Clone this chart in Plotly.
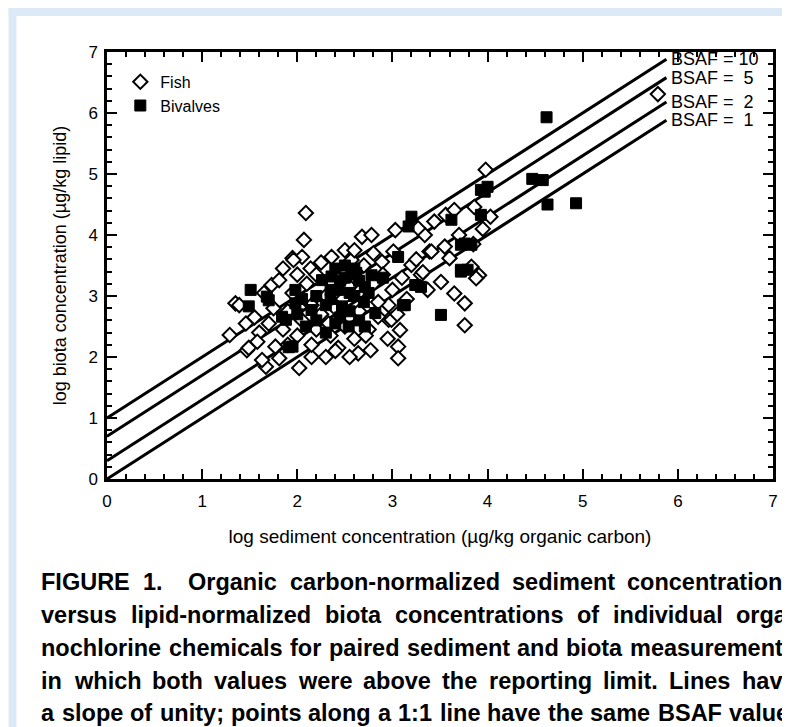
import plotly.graph_objects as go

# ---- data (log units) ----
fish_x = [2.09, 2.07, 1.95, 2.14, 2.05, 1.96, 3.98, 5.79,
          2.68, 2.78, 3.03, 3.34, 3.44, 3.56, 3.65, 3.86, 4.03, 3.27,
          3.55, 3.01, 3.39, 3.60, 3.20, 2.89, 2.50, 2.36, 2.57, 3.83, 3.91, 3.41,
          3.51, 3.65, 3.76, 3.76, 3.88, 3.08, 3.06, 3.06, 2.64, 2.77, 2.30, 2.96,
          2.43, 2.96, 2.85, 2.99,
          1.35, 1.29, 1.46, 1.47, 1.67, 1.81, 2.02, 1.73, 1.63, 1.77, 2.15, 1.81,
          1.39, 1.49,
          1.55, 1.60, 1.70, 1.75, 1.85, 1.90, 1.95, 2.00, 2.05, 2.10, 2.15, 2.20,
          2.20, 2.25, 2.30, 2.35, 2.40, 2.45, 2.50, 2.55, 2.60, 2.65, 2.70, 2.75,
          2.80, 2.85, 2.90, 2.95, 3.00, 3.05, 3.10, 3.15, 3.25, 3.30, 1.65, 1.85,
          2.00, 2.25, 2.40, 2.55, 2.15, 1.90, 2.60, 2.80, 3.37, 3.32, 3.70, 3.95,
          3.85, 1.58, 2.33, 2.72, 2.48]
fish_y = [4.36, 3.92, 3.62, 3.45, 3.64, 3.59, 5.07, 6.31,
          3.97, 4.00, 4.08, 4.00, 4.22, 4.33, 4.41, 4.46, 4.30, 4.11,
          3.81, 3.73, 3.73, 3.62, 3.51, 3.56, 3.75, 3.64, 3.59, 3.48, 3.34, 3.73,
          3.23, 3.04, 2.88, 2.52, 3.29, 2.44, 2.17, 1.98, 2.06, 2.11, 2.00, 2.61,
          2.15, 2.85, 2.66, 2.61,
          2.88, 2.36, 2.55, 2.11, 1.84, 1.98, 1.82, 3.18, 1.95, 2.17, 2.00, 3.26,
          2.85, 2.15,
          2.65, 2.40, 2.55, 2.80, 2.45, 2.75, 3.05, 2.35, 2.60, 3.20, 2.85, 2.45,
          3.35, 2.70, 3.00, 2.35, 2.80, 3.40, 2.50, 3.15, 2.30, 2.75, 3.50, 2.45,
          3.20, 2.90, 3.35, 2.30, 3.10, 2.70, 3.30, 2.95, 3.60, 3.35, 3.05, 3.45,
          3.35, 3.55, 2.10, 2.00, 2.20, 2.20, 3.75, 3.70, 3.10, 3.39, 4.00, 4.10,
          3.85, 2.25, 2.55, 2.35, 2.95]

bivalve_x = [3.20, 3.17, 3.97, 3.93, 4.47, 3.62, 3.06, 3.76, 3.83, 3.72, 4.00,
             3.93, 3.72, 3.79, 3.51, 3.11, 3.24, 3.72, 3.30, 3.13,
             4.62, 4.58, 4.63, 4.93,
             1.51, 1.49, 1.70, 1.84, 1.91, 1.98, 1.68, 1.95, 1.88, 2.36, 2.57,
             2.71, 2.47, 2.54, 2.71, 2.78, 2.15, 2.26, 1.98, 2.09, 2.43, 2.82,
             2.20, 2.30, 2.40, 2.50, 2.60, 2.65, 2.45, 2.55, 2.60, 2.35, 2.70,
             2.20, 2.05, 2.00, 2.50, 2.65, 2.90, 2.30,
             2.35, 2.45, 2.55, 2.62, 2.75, 2.40]
bivalve_y = [4.30, 4.14, 4.71, 4.33, 4.92, 4.25, 3.64, 3.86, 3.84, 3.43, 4.79,
             4.74, 3.84, 3.43, 2.69, 2.85, 3.18, 3.40, 3.15, 2.85,
             5.93, 4.90, 4.50, 4.52,
             3.10, 2.83, 2.93, 2.66, 2.16, 3.10, 2.99, 2.17, 2.61, 3.32, 3.37,
             3.15, 2.83, 2.50, 2.50, 3.34, 2.77, 3.26, 2.88, 2.50, 3.10, 2.72,
             3.00, 2.85, 3.45, 3.30, 3.00, 3.25, 2.65, 2.75, 3.45, 3.10, 2.90,
             2.60, 2.95, 2.70, 3.50, 2.60, 3.30, 2.40,
             2.95, 3.25, 3.05, 3.38, 3.05, 2.55]

bsaf_labels = ["BSAF = 10", "BSAF =\u00a0\u00a05", "BSAF =\u00a0\u00a02", "BSAF =\u00a0\u00a01"]
bsaf_intercepts = [1.0, 0.7, 0.3, 0.0]   # log10 BSAF
line_end = 5.88

caption = [
    "FIGURE 1.  Organic carbon-normalized sediment concentrations",
    "versus lipid-normalized biota concentrations of individual orga-",
    "nochlorine chemicals for paired sediment and biota measurements",
    "in which both values were above the reporting limit. Lines have",
    "a slope of unity; points along a 1:1 line have the same BSAF value.",
]
caption_rows = [582, 615, 648, 681, 713]   # page pixels
CAP_LEFT, CAP_RIGHT, CAP_SIZE = 40, 798, 23.5

# the page body has an 8 px margin, so the figure sits at (8, 8)
OFF = 8
W, H = 790 - OFF, 727 - OFF
L, T = 107 - OFF, 52 - OFF
pw, ph = 670, 427
R, B = W - L - pw, H - T - ph


def px(x):
    """page pixel -> paper x"""
    return (x - OFF - L) / pw


def py(y):
    """page pixel -> paper y"""
    return (T + ph - (y - OFF)) / ph


# Arial/Liberation Sans Bold advance widths (1/1000 em)
BOLD_W = {" ": 278, "-": 333, ".": 278, ",": 278, ";": 333, ":": 333, "1": 556,
          "A": 722, "B": 722, "E": 667, "F": 611, "G": 778, "I": 278, "L": 611,
          "O": 778, "R": 722, "S": 667, "U": 722,
          "a": 556, "b": 611, "c": 556, "d": 611, "e": 556, "f": 333, "g": 611,
          "h": 611, "i": 278, "j": 278, "k": 556, "l": 278, "m": 889, "n": 611,
          "o": 611, "p": 611, "q": 611, "r": 389, "s": 556, "t": 333, "u": 611,
          "v": 556, "w": 778, "x": 556, "y": 556, "z": 500}


def word_w(s):
    return sum(BOLD_W.get(c, 556) for c in s) * CAP_SIZE / 1000


FONT = "Liberation Sans, Arial, sans-serif"

fig = go.Figure()

for ic in bsaf_intercepts:
    fig.add_trace(go.Scatter(
        x=[0, line_end], y=[ic, line_end + ic], mode="lines",
        line=dict(color="black", width=3), showlegend=False, hoverinfo="skip",
    ))

fig.add_trace(go.Scatter(
    x=fish_x, y=fish_y, mode="markers", name="Fish",
    marker=dict(symbol="diamond", size=11, color="white",
                line=dict(color="black", width=2)),
))
fig.add_trace(go.Scatter(
    x=bivalve_x, y=bivalve_y, mode="markers", name="Bivalves",
    marker=dict(symbol="square", size=11, color="black",
                line=dict(color="black", width=1)),
))

for lab, ic in zip(bsaf_labels, bsaf_intercepts):
    fig.add_annotation(x=line_end, y=line_end + ic, text=lab, showarrow=False,
                       xanchor="left", yanchor="middle", xshift=3,
                       font=dict(size=18, family=FONT, color="black"))

# justified caption: place word by word
for txt, row in zip(caption, caption_rows):
    words = txt.split(" ")
    total = sum(word_w(w) for w in words)
    gap = (CAP_RIGHT - CAP_LEFT - total) / (len(words) - 1)
    xpos = CAP_LEFT
    for w in words:
        if w:
            fig.add_annotation(xref="paper", yref="paper", x=px(xpos - 1), y=py(row),
                               text=w, showarrow=False, xanchor="left", yanchor="middle",
                               font=dict(size=CAP_SIZE, family=FONT, weight="bold",
                                         color="black"))
        xpos += word_w(w) + gap

axis_common = dict(
    range=[0, 7], dtick=1, ticks="inside", ticklen=10, tickwidth=2,
    tickcolor="black", showline=True, linewidth=2.5, linecolor="black",
    mirror="ticks", showgrid=False, zeroline=False,
    minor=dict(dtick=0.2, ticks="inside", ticklen=5, tickwidth=1.5,
               tickcolor="black", showgrid=False),
    tickfont=dict(size=17, family=FONT, color="black"),
)

fig.update_xaxes(**axis_common, ticklabelstandoff=5,
                 title=dict(text="log sediment concentration (\u00b5g/kg organic carbon)",
                            font=dict(size=19, family=FONT, color="black"), standoff=20))
fig.update_yaxes(**axis_common, ticklabelstandoff=3,
                 title=dict(text="log biota concentration (\u00b5g/kg lipid)",
                            font=dict(size=18, family=FONT, color="black"), standoff=18))

# light blue page border
fig.add_shape(type="rect", xref="paper", yref="paper", x0=px(OFF), x1=px(800), y0=py(OFF), y1=py(16),
              fillcolor="#dce9f6", line=dict(width=0), layer="below")
fig.add_shape(type="rect", xref="paper", yref="paper", x0=px(OFF), x1=px(16), y0=py(OFF), y1=py(740),
              fillcolor="#dce9f6", line=dict(width=0), layer="below")

fig.update_layout(
    width=W, height=H,
    margin=dict(l=L, r=R, t=T, b=B),
    paper_bgcolor="white", plot_bgcolor="white",
    font=dict(family=FONT, size=17, color="black"),
    legend=dict(x=0.02, y=0.97, xanchor="left", yanchor="top",
                bgcolor="rgba(0,0,0,0)", font=dict(size=16, family=FONT),
                itemwidth=30, tracegroupgap=0),
)

fig.write_html("out.html")
